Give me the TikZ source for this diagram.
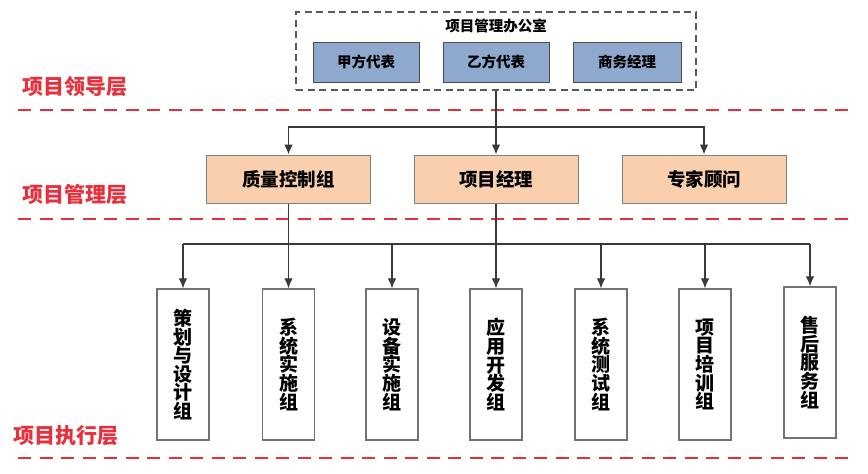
\documentclass[tikz,border=0pt]{standalone}
\usepackage{fontspec}
\setmainfont{Noto Sans CJK SC}
\usetikzlibrary{arrows.meta}
\definecolor{layerred}{HTML}{E8303C}
\definecolor{bluefill}{HTML}{8EA9CD}
\definecolor{peachfill}{HTML}{F9CFAE}
\definecolor{lineg}{HTML}{3A3A3A}
\tikzset{
  layerlbl/.style={text=layerred, font=\fontsize{21}{23}\selectfont\bfseries, inner sep=0pt},
  layerline/.style={draw=layerred, line width=2pt, dash pattern=on 13pt off 8.5pt},
  bluebox/.style={draw=black!70, line width=0.9pt, fill=bluefill, minimum height=40pt, inner sep=0pt, font=\fontsize{14.5}{16}\selectfont\bfseries},
  peachbox/.style={draw=black!50, line width=1pt, fill=peachfill, minimum width=164pt, minimum height=48pt, inner sep=0pt, font=\fontsize{18.5}{20}\selectfont\bfseries},
  groupbox/.style={draw=black!55, line width=1.3pt, fill=white, minimum width=52pt, minimum height=151pt, inner sep=0pt, align=center, font=\fontsize{19}{18.6}\selectfont\bfseries},
  conn/.style={draw=lineg, line width=1.1pt},
  arr/.style={conn, -{Latex[length=10pt,width=8.5pt]}},
}
\begin{document}
\begin{tikzpicture}[x=1pt,y=-1pt]
\useasboundingbox (0,0) rectangle (868,474);
% office box
\node[draw=black!65, dashed, dash pattern=on 7pt off 4.5pt, line width=1.2pt, minimum width=400pt, minimum height=78pt, inner sep=0pt] (office) at (496,51) {};
\node[font=\fontsize{14.5}{16}\selectfont\bfseries, inner sep=0pt] (otitle) at (496,26) {项目管理办公室};
\node[bluebox, minimum width=106pt] (ja) at (366,62) {甲方代表};
\node[bluebox, minimum width=106pt] (ya) at (496,62) {乙方代表};
\node[bluebox, minimum width=108pt] (sw) at (627,62) {商务经理};
% layer labels and lines
\node[layerlbl] (l1) at (75,87) {项目领导层};
\node[layerlbl] (l2) at (75,195) {项目管理层};
\node[layerlbl] (l3) at (65.5,436) {项目执行层};
\coordinate (r1a) at (18,110); \coordinate (r1b) at (853,110);
\coordinate (r2a) at (18,219); \coordinate (r2b) at (853,219);
\coordinate (r3a) at (18,458); \coordinate (r3b) at (853,458);
\draw[layerline] (r1a) -- (r1b);
\draw[layerline] (r2a) -- (r2b);
\draw[layerline] (r3a) -- (r3b);
% middle boxes
\node[peachbox] (qc) at (288.5,179) {质量控制组};
\node[peachbox] (pm) at (496,179) {项目经理};
\node[peachbox] (ex) at (704,179) {专家顾问};
\coordinate (j1) at (496,127);
\draw[arr] (office.south) -- (pm.north);
\draw[arr] (j1) -| (qc.north);
\draw[arr] (j1) -| (ex.north);
% bottom boxes
\node[groupbox] (b1) at (183,364.5) {策\\划\\与\\设\\计\\组};
\node[groupbox] (b2) at (288.5,364.5) {系\\统\\实\\施\\组};
\node[groupbox] (b3) at (392,364.5) {设\\备\\实\\施\\组};
\node[groupbox] (b4) at (496,364.5) {应\\用\\开\\发\\组};
\node[groupbox] (b5) at (601,364.5) {系\\统\\测\\试\\组};
\node[groupbox] (b6) at (705,364.5) {项\\目\\培\\训\\组};
\node[groupbox] (b7) at (810,362.5) {售\\后\\服\\务\\组};
\coordinate (h1) at (183,244);
\coordinate (h3) at (392,244);
\coordinate (h5) at (601,244);
\coordinate (h6) at (705,244);
\coordinate (h7) at (810,244);
\draw[conn] (h1) -- (h7);
\draw[arr] (qc.south) -- (b2.north);
\draw[arr] (pm.south) -- (b4.north);
\draw[arr] (h1) -- (b1.north);
\draw[arr] (h3) -- (b3.north);
\draw[arr] (h5) -- (b5.north);
\draw[arr] (h6) -- (b6.north);
\draw[arr] (h7) -- (b7.north);
\end{tikzpicture}
\end{document}
